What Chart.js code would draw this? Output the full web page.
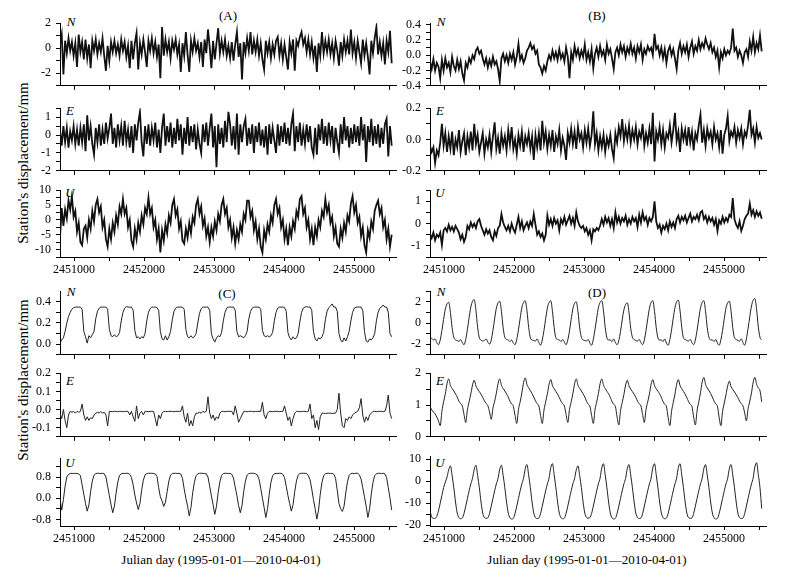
<!DOCTYPE html>
<html>
<head>
<meta charset="utf-8">
<script src="https://cdn.jsdelivr.net/npm/chart.js@4.4.0/dist/chart.umd.min.js"></script>
<style>
  body { margin: 0; background: #fff; }
  #wrap { position: relative; width: 787px; height: 575px; overflow: hidden; font-family: 'Liberation Serif', 'Times New Roman', serif; color: #000; }
  #wrap canvas { position: absolute; }
  .lbl { position: absolute; font-size: 13px; line-height: 1; white-space: nowrap; transform: translate(-50%, -50%); }
  .comp { font-style: italic; }
  .ytitle { position: absolute; font-size: 15px; line-height: 1; white-space: nowrap; transform: translate(-50%, -50%) rotate(-90deg); }
</style>
</head>
<body>
<div id="wrap">
  <div class="lbl" style="left:228px;top:15px">(A)</div>
  <div class="lbl" style="left:597px;top:15px">(B)</div>
  <div class="lbl" style="left:227px;top:293px">(C)</div>
  <div class="lbl" style="left:597px;top:292px">(D)</div>
  <div class="lbl comp" style="left:71px;top:21px">N</div>
  <div class="lbl comp" style="left:70px;top:110px">E</div>
  <div class="lbl comp" style="left:70px;top:192px">U</div>
  <div class="lbl comp" style="left:441px;top:21px">N</div>
  <div class="lbl comp" style="left:440px;top:110px">E</div>
  <div class="lbl comp" style="left:440px;top:192px">U</div>
  <div class="lbl comp" style="left:71px;top:291px">N</div>
  <div class="lbl comp" style="left:70px;top:380px">E</div>
  <div class="lbl comp" style="left:70px;top:462px">U</div>
  <div class="lbl comp" style="left:441px;top:291px">N</div>
  <div class="lbl comp" style="left:440px;top:380px">E</div>
  <div class="lbl comp" style="left:440px;top:462px">U</div>
  <div class="ytitle" style="left:23px;top:163px">Station's displacement/mm</div>
  <div class="ytitle" style="left:23px;top:380px">Station's displacement/mm</div>
  <div class="lbl" style="left:221px;top:559px">Julian day (1995-01-01—2010-04-01)</div>
  <div class="lbl" style="left:587px;top:559px">Julian day (1995-01-01—2010-04-01)</div>
</div>
<script>
// sampling of the series (Julian day)
const dayStart = 2450800;
const dayStep = 24.3;
const xMin = 2450800;
const xMax = 2455600;
const xTicks = [2451000, 2451500, 2452000, 2452500, 2453000, 2453500, 2454000, 2454500, 2455000, 2455500];
const xLabels = [2451000, 2452000, 2453000, 2454000, 2455000];

// (A) raw series
const aN = [
  0.3, 1.1, -2.1, 0.6, -0.4, 0.8, -0.2, 0.5, -0.6, 0.4, -1.5, 1.1, -0.3, 0.5, -0.9,
  0.7, -0.8, 0.3, -1.6, 0.6, -0.2, 0.7, -0.5, 0.4, -0.3, 0.8, -0.6, -1.8, 0.2, -1.0,
  0.5, -0.3, 0.6, -0.4, 0.3, -0.6, 0.7, -0.2, 0.5, -0.7, 0.2, -1.6, 0.6, -0.9, 0.4,
  1.2, -1.7, 0.4, -0.5, 0.7, -0.3, -1.5, 0.6, -0.2, 0.8, -0.4, 0.5, -0.7, 0.3, -2.4,
  1.7, -0.6, 0.7, -0.3, 0.5, -0.8, 0.6, -0.1, 0.7, -0.5, 0.3, -1.9, 0.4, -0.6, 1.3,
  -0.5, -1.9, 0.6, -0.3, 0.8, -0.2, 0.4, -0.7, 0.5, -1.5, 0.7, -0.4, 1.5, 0.1, -1.6,
  0.6, -0.9, 0.4, 1.6, -0.4, 0.6, -0.3, 0.7, -0.6, 0.2, -0.8, 0.5, -1.0, 0.3, 1.3,
  -0.7, 0.4, -2.5, 0.5, -0.4, 0.8, -0.2, 1.3, -0.5, 0.6, -0.3, 0.7, -0.6, 0.4, -0.9,
  -1.7, 0.6, -0.4, 0.5, -0.8, 0.3, -0.5, 0.6, 0.9, -0.6, 0.4, -0.9, 0.3, -0.7, -1.7,
  0.5, -0.4, 0.7, -1.8, 0.6, 0.2, 0.9, 1.3, 0.3, 0.8, -0.3, 0.7, -0.5, 0.5, -0.8,
  0.2, -1.9, 0.4, -0.6, 1.3, -0.4, 0.6, -0.3, 0.7, -0.5, 0.4, -0.8, 0.6, -0.2, -1.4,
  0.5, -0.6, 0.7, -0.3, 0.6, -0.5, 1.5, -0.4, 0.5, -0.8, 0.6, -0.3, -1.2, 0.7, -0.6,
  0.4, -0.7, -2.1, 0.6, -0.4, 0.8, 1.7, -0.5, 0.5, -0.6, 0.4, -1.3, 0.6, -0.3, 1.4,
  -1.2
];
const aE = [
  0.3, -0.6, 0.5, -0.4, 0.4, -0.7, 0.2, -0.3, 0.5, -0.5, 0.3, -0.6, 0.4, -0.4, 0.6,
  -0.9, 1.1, -0.3, 0.5, -0.5, -1.1, 0.4, -0.4, 0.6, -0.6, 0.3, -0.5, 0.7, -0.2, 0.4,
  1.2, -0.5, 0.4, -0.7, 0.6, -0.3, 0.5, -0.6, 0.8, -0.4, 0.3, -0.7, 0.5, -1.0, 0.6,
  -0.3, 0.7, 1.3, -0.4, -1.2, 0.5, -0.5, 0.6, -0.6, 0.4, -0.3, 0.7, -0.7, 0.3, -1.0,
  0.4, 1.2, -0.6, 0.5, -0.4, 0.7, -0.7, 0.4, -0.5, 0.9, -0.3, 0.6, -1.1, 0.4, -0.5,
  1.0, -0.6, 0.5, -0.4, 0.6, -0.8, 0.3, -0.5, -1.0, 0.6, -0.4, 0.7, -0.6, 0.4, 1.2,
  -0.7, 0.5, -1.8, 0.6, -0.5, 0.4, -0.7, 0.8, -0.4, 1.3, 0.6, -0.6, 0.5, -0.8, 1.2,
  -1.1, 0.6, -0.4, 0.5, 0.9, -0.6, 0.4, -0.5, 0.6, -1.0, 0.5, -0.4, 0.7, -0.6, 0.3,
  -0.7, 0.5, -1.1, 0.6, -0.5, 0.4, -0.3, -1.0, 0.6, -0.6, 0.5, -0.4, 0.7, -0.5, 0.4,
  -0.6, 0.6, 1.2, -0.9, 0.5, -0.4, 0.7, -0.6, 0.3, -0.5, 0.6, -0.4, 0.5, -0.7, -1.1,
  0.4, -1.1, 0.6, -0.3, 0.9, -0.5, 0.5, -0.6, 0.7, -0.3, 0.5, -1.0, 0.4, -0.4, -1.0,
  0.6, -0.5, 1.0, -0.3, 0.5, -0.7, 0.4, -0.5, 0.6, -0.4, 0.5, -0.6, 1.0, -0.3, 0.6,
  -1.5, 0.5, -0.4, 0.9, -0.6, 0.5, -0.5, 0.6, -0.7, 0.4, -0.5, 0.6, 0.9, -1.2, 0.5,
  -0.6
];
const aU = [
  -6, 4, -2, 3.5, 0.5, 6.5, 3.5, 8, 1, 3, -4, -1, -7.5, -8.5, -3,
  -2, -6, 0, -3, 3, -0.5, 5, 7, 2.5, 4.5, -2.5, 0, -6.5, -9, -3,
  -6.5, -1, -4, 1.5, -1.5, 4.5, 2, 7, 2, 4, -2.5, 0, -7, -9, -3,
  -6.5, -1, -4, 1.5, -1.5, 4, 2, 7.5, 2, 4, -2.5, 0, -6.5, -3, -11,
  -3.5, -7, -1.5, -4.5, 1.5, -1, 5, 7, 1.5, 3.5, -3, -0.5, -7, -8, -3,
  -6, -1, -4.5, 1, -1, 5, 7, 2, 4.5, -2, 0.5, -5.5, -2.5, -7.5, -2.5,
  -5.5, -0.5, -3.5, 2, -0.5, 5, 7, 2, 4, -2.5, 0, -6, -2.5, -8, -3.5,
  -6.5, -1.5, -4, 2, 0, 6.5, 6.5, 1, 3, -3.5, -0.5, -6.5, -3, -9, -11,
  -3.5, -6.5, -1.5, -4, 1.5, -1, 5, 7, 2, 4, -2.5, 0, -6.5, -3, -8.5,
  -2.5, -5.5, -0.5, -3, 3, 1, 7, 8, 2, 4, -2.5, 0, -6.5, -3, -8.5,
  -2.5, -5.5, 0, -2.5, 3, 1, 7, 2.5, 5, -1, 1, -5.5, -2.5, -8, -9,
  -3, -6, -1, -4, 1.5, -0.5, 5.5, 8, 2.5, 5, -1, 1, -5.5, -2.5, -8.5,
  -11, -3.5, -6, -0.5, -3, 3, 5, 6.5, 2, 4, -2.5, 0, -6.5, -3, -9,
  -5
];

// (B)
const bN = [
  -0.08, -0.18, -0.05, -0.2, -0.1, -0.15, -0.3, -0.06, -0.2, -0.04, -0.16, -0.1, -0.22, -0.02, -0.14,
  -0.2, -0.06, -0.18, -0.08, -0.24, -0.33, -0.1, -0.16, -0.04, -0.1, 0.0, -0.05, 0.06, 0.1, 0.02,
  0.06, -0.04, -0.12, -0.04, -0.16, -0.06, -0.14, -0.02, -0.12, -0.08, -0.18, -0.34, -0.04, 0.02, -0.08,
  0.0, -0.1, 0.02, -0.06, 0.04, -0.12, -0.02, 0.15, -0.06, 0.0, -0.1, -0.04, 0.06, 0.1, 0.16,
  0.08, 0.12, 0.02, 0.06, -0.12, -0.16, -0.24, -0.14, -0.2, -0.08, 0.0, -0.06, 0.06, -0.04, 0.04,
  -0.06, 0.08, -0.04, 0.02, -0.08, 0.1, -0.02, -0.3, 0.04, -0.06, 0.12, 0.0, 0.08, -0.04, 0.06,
  -0.02, 0.14, -0.06, 0.04, -0.08, 0.08, -0.17, 0.02, 0.1, -0.02, 0.12, 0.0, 0.06, -0.06, 0.14,
  0.02, 0.08, -0.04, -0.18, 0.04, 0.1, 0.0, 0.14, 0.04, 0.12, -0.02, 0.1, 0.03, 0.15, 0.02,
  0.1, -0.04, 0.12, 0.04, 0.14, -0.06, 0.08, 0.02, 0.12, 0.06, 0.1, 0.0, 0.28, 0.08, 0.12,
  0.0, 0.1, -0.04, 0.08, -0.1, 0.06, 0.12, 0.0, 0.08, -0.04, -0.18, 0.06, 0.16, 0.02, 0.12,
  0.04, 0.14, -0.02, 0.1, 0.18, 0.02, 0.12, 0.06, 0.2, 0.08, 0.16, 0.1, 0.22, 0.14, 0.08,
  0.16, 0.04, 0.1, -0.02, 0.06, -0.16, 0.04, -0.04, 0.08, 0.0, 0.06, 0.02, 0.1, 0.35, 0.06,
  0.1, -0.02, 0.06, 0.0, -0.1, 0.04, 0.08, -0.02, 0.18, 0.06, 0.24, 0.04, 0.16, 0.08, 0.26,
  0.05
];
const bE = [
  -0.04, -0.08, -0.05, -0.15, -0.07, -0.1, -0.02, 0.1, -0.04, 0.04, -0.08, 0.02, -0.06, 0.05, -0.1,
  0.0, -0.05, 0.06, -0.08, -0.01, 0.04, -0.1, 0.02, -0.05, 0.05, -0.07, 0.1, -0.03, 0.03, -0.08,
  -0.02, 0.04, -0.09, 0.0, -0.05, 0.03, -0.08, 0.02, 0.11, -0.06, 0.01, -0.09, 0.04, -0.04, 0.02,
  -0.07, 0.06, -0.03, 0.08, -0.06, 0.0, -0.09, 0.03, -0.04, 0.05, -0.08, 0.02, -0.03, 0.04, -0.06,
  0.02, -0.13, 0.03, -0.05, 0.04, -0.07, 0.12, -0.02, 0.05, -0.06, 0.03, -0.04, 0.06, -0.08, 0.02,
  -0.03, 0.06, -0.07, 0.01, -0.04, -0.13, 0.04, -0.02, 0.07, -0.03, 0.05, -0.06, 0.08, 0.0, 0.04,
  -0.05, 0.06, -0.02, 0.07, -0.04, 0.03, 0.18, -0.03, 0.04, -0.07, 0.02, -0.05, 0.03, -0.08, 0.01,
  -0.04, 0.03, -0.06, -0.12, 0.04, -0.02, 0.08, 0.02, 0.13, -0.01, 0.07, 0.0, 0.09, -0.02, 0.06,
  0.0, 0.08, -0.03, 0.05, 0.01, 0.1, -0.04, 0.04, -0.02, 0.07, -0.03, 0.17, -0.14, 0.05, 0.0,
  0.08, -0.03, 0.06, -0.05, 0.04, 0.01, 0.09, -0.02, 0.06, 0.17, -0.01, 0.05, -0.08, 0.07, 0.0,
  0.06, -0.04, 0.08, -0.02, 0.05, -0.07, 0.04, 0.0, 0.09, 0.16, -0.02, 0.06, -0.04, 0.07, 0.01,
  0.05, -0.03, 0.08, 0.0, 0.04, -0.05, 0.06, -0.09, 0.03, 0.07, 0.15, -0.01, 0.05, 0.02, 0.08,
  -0.02, 0.06, 0.01, 0.07, -0.03, 0.05, 0.02, 0.09, 0.19, 0.03, 0.07, -0.02, 0.08, 0.01, 0.04,
  0.0
];
const bU = [
  -0.47, -0.65, -0.4, -0.75, -0.5, -0.6, -0.4, -0.96, -0.3, -0.2, -0.35, -0.05, -0.3, -0.15, -0.35,
  -0.1, -0.25, -0.4, -0.7, -0.5, -0.82, -0.6, -0.1, -0.25, 0.05, -0.15, 0.0, -0.2, 0.1, 0.2,
  -0.1, -0.3, -0.5, -0.25, -0.45, -0.3, -0.6, -0.75, -0.35, -0.55, -0.2, -0.1, 0.43, 0.05, -0.15,
  -0.3, -0.1, -0.35, 0.0, -0.25, -0.4, -0.05, 0.3, -0.2, 0.1, -0.3, -0.1, 0.05, -0.2, 0.1,
  -0.1, 0.43, -0.05, -0.5, -0.35, -0.6, -0.45, -0.75, -0.5, 0.36, -0.05, 0.2, -0.1, 0.25, 0.0,
  0.15, -0.3, 0.2, 0.0, 0.3, -0.05, 0.15, 0.35, 0.0, 0.25, -0.1, 0.5, 0.1, -0.1, -0.2,
  -0.1, -0.35, -0.2, -0.5, -0.3, -0.75, -0.25, -0.35, -0.2, -0.3, -0.1, 0.2, -0.05, 0.3, 0.05,
  0.25, -0.1, 0.2, -0.2, 0.5, 0.05, 0.3, 0.0, 0.25, 0.1, 0.35, -0.05, 0.2, 0.0, 0.3,
  0.1, 0.25, -0.15, 0.4, 0.05, 0.5, 0.15, 0.3, -0.05, 0.25, 0.1, 0.3, 1.0, 0.1, -0.2,
  -0.05, -0.4, -0.1, -0.25, 0.0, -0.3, 0.1, -0.15, 0.05, -0.2, 0.2, 0.35, 0.05, 0.3, 0.15,
  0.35, 0.05, 0.25, 0.45, 0.1, 0.3, 0.2, 0.4, 0.15, 0.5, 0.57, 0.2, 0.35, 0.05, 0.3,
  0.1, 0.25, -0.05, 0.2, -0.33, 0.15, 0.0, 0.3, 0.05, 0.25, 0.1, 0.4, 0.3, 1.15, 0.2,
  -0.05, -0.2, 0.1, -0.33, -0.1, 0.2, 0.35, 0.45, 0.9, 0.4, 0.6, 0.3, 0.55, 0.35, 0.5,
  0.22
];

// (C)
const cN = [
  0.01, 0.04, 0.06, 0.12, 0.2, 0.26, 0.3, 0.33, 0.345, 0.35, 0.35, 0.35, 0.35, 0.33, 0.12,
  0.07, 0.01, 0.08, 0.06, 0.09, 0.12, 0.24, 0.31, 0.34, 0.35, 0.35, 0.35, 0.35, 0.33, 0.14,
  0.08, 0.07, 0.09, 0.07, 0.08, 0.11, 0.22, 0.3, 0.34, 0.355, 0.35, 0.35, 0.35, 0.32, 0.13,
  0.06, 0.07, 0.05, 0.07, 0.06, 0.1, 0.22, 0.3, 0.335, 0.35, 0.35, 0.35, 0.345, 0.32, 0.12,
  0.05, 0.04, 0.08, 0.04, 0.07, 0.12, 0.23, 0.31, 0.34, 0.35, 0.35, 0.35, 0.35, 0.33, 0.14,
  0.07, 0.06, 0.08, 0.06, 0.07, 0.1, 0.2, 0.29, 0.335, 0.35, 0.35, 0.35, 0.35, 0.32, 0.1,
  0.05, 0.02, 0.06, 0.08, 0.07, 0.11, 0.22, 0.3, 0.34, 0.35, 0.35, 0.35, 0.35, 0.32, 0.12,
  0.07, 0.08, 0.07, 0.06, 0.08, 0.12, 0.24, 0.31, 0.34, 0.35, 0.35, 0.35, 0.35, 0.33, 0.13,
  0.08, 0.07, 0.08, 0.07, 0.08, 0.11, 0.22, 0.3, 0.34, 0.35, 0.35, 0.35, 0.345, 0.31, 0.11,
  0.06, 0.04, 0.07, 0.05, 0.06, 0.1, 0.21, 0.3, 0.34, 0.35, 0.355, 0.35, 0.35, 0.32, 0.12,
  0.05, 0.03, 0.06, 0.05, 0.07, 0.11, 0.23, 0.31, 0.345, 0.36, 0.38, 0.35, 0.35, 0.31, 0.1,
  0.04, 0.02, 0.06, 0.03, 0.07, 0.12, 0.22, 0.3, 0.34, 0.35, 0.35, 0.35, 0.35, 0.32, 0.12,
  0.03, 0.02, 0.05, 0.04, 0.06, 0.1, 0.22, 0.3, 0.34, 0.35, 0.37, 0.35, 0.35, 0.3, 0.1,
  0.07
];
const cE = [
  -0.02, -0.05, 0.0, -0.06, -0.1, -0.03, -0.01, -0.015, -0.01, -0.02, -0.01, -0.015, -0.01, 0.03, -0.03,
  -0.06, -0.04, -0.06, -0.045, -0.05, -0.03, -0.02, -0.015, -0.02, -0.01, -0.02, -0.015, -0.03, -0.09, -0.01,
  -0.01, -0.012, -0.01, -0.01, -0.012, -0.01, -0.01, -0.012, -0.01, -0.01, -0.01, -0.03, -0.01, -0.04, -0.065,
  0.02, -0.05, -0.02, -0.01, -0.03, -0.01, -0.01, -0.012, -0.01, -0.01, -0.01, -0.05, -0.09, -0.03, -0.05,
  -0.02, -0.01, -0.01, -0.012, -0.01, -0.01, -0.01, -0.012, -0.01, -0.01, -0.01, -0.01, 0.02, -0.04, -0.07,
  -0.02, -0.09, -0.06, -0.09, -0.04, -0.02, -0.02, -0.015, -0.02, -0.01, -0.015, -0.01, 0.07, -0.02, -0.05,
  -0.03, -0.06, -0.04, -0.05, -0.02, -0.01, -0.01, -0.012, -0.01, -0.01, -0.01, -0.01, -0.03, 0.02, -0.02,
  -0.07, -0.05, -0.03, -0.01, -0.01, -0.012, -0.01, -0.01, -0.01, -0.012, -0.01, -0.01, -0.01, -0.01, 0.04,
  -0.03, -0.05, -0.02, -0.01, -0.01, -0.012, -0.01, -0.01, -0.01, -0.012, -0.01, -0.01, 0.02, -0.02, -0.06,
  -0.04, -0.09, -0.05, -0.02, -0.01, -0.01, -0.012, -0.01, -0.01, -0.01, -0.012, -0.01, 0.03, -0.05, -0.03,
  -0.1, -0.06, -0.11, -0.04, -0.02, -0.02, -0.022, -0.02, -0.02, -0.02, -0.022, -0.02, -0.02, 0.0, 0.09,
  -0.02, -0.09, -0.1, -0.05, -0.06, -0.04, -0.05, -0.03, -0.02, -0.015, -0.01, 0.01, 0.06, -0.03, -0.07,
  -0.04, -0.06, -0.03, -0.02, -0.01, -0.01, -0.012, -0.01, -0.01, -0.01, -0.012, -0.01, 0.02, 0.08, -0.02,
  -0.05
];
const cU = [
  0.0, -0.45, -0.05, 0.45, 0.8, 0.9, 0.93, 0.94, 0.93, 0.94, 0.93, 0.92, 0.85, 0.5, 0.15,
  -0.2, -0.49, -0.25, 0.25, 0.65, 0.87, 0.93, 0.94, 0.94, 0.93, 0.94, 0.92, 0.8, 0.45, 0.1,
  -0.25, -0.55, -0.3, 0.2, 0.62, 0.86, 0.92, 0.94, 0.93, 0.94, 0.94, 0.9, 0.78, 0.5, 0.12,
  -0.18, -0.43, -0.2, 0.3, 0.68, 0.88, 0.93, 0.94, 0.94, 0.94, 0.93, 0.92, 0.82, 0.4, 0.05,
  -0.1, -0.31, -0.15, 0.25, 0.65, 0.87, 0.93, 0.94, 0.94, 0.93, 0.94, 0.91, 0.75, 0.35, 0.0,
  -0.3, -0.67, -0.35, 0.2, 0.6, 0.85, 0.92, 0.94, 0.94, 0.94, 0.93, 0.92, 0.8, 0.45, 0.08,
  -0.25, -0.61, -0.3, 0.22, 0.63, 0.86, 0.93, 0.94, 0.94, 0.93, 0.94, 0.9, 0.76, 0.42, 0.1,
  -0.28, -0.55, -0.28, 0.25, 0.65, 0.87, 0.93, 0.94, 0.94, 0.94, 0.92, 0.88, 0.72, 0.38, 0.0,
  -0.35, -0.73, -0.4, 0.15, 0.6, 0.85, 0.92, 0.94, 0.93, 0.94, 0.94, 0.9, 0.78, 0.45, 0.1,
  -0.2, -0.49, -0.25, 0.25, 0.65, 0.87, 0.93, 0.94, 0.94, 0.94, 0.93, 0.85, 0.7, 0.35, -0.05,
  -0.4, -0.79, -0.45, 0.15, 0.6, 0.85, 0.92, 0.94, 0.94, 0.93, 0.94, 0.9, 0.75, 0.3, -0.2,
  -0.4, -0.5, -0.3, 0.2, 0.62, 0.86, 0.93, 0.94, 0.93, 0.94, 0.94, 0.88, 0.72, 0.4, 0.05,
  -0.3, -0.73, -0.4, 0.15, 0.6, 0.85, 0.92, 0.94, 0.94, 0.93, 0.94, 0.92, 0.78, 0.4, 0.0,
  -0.45
];

// (D)
const dN = [
  -1.5, -1.45, -1.6, -1.5, -1.85, -2.05, -1.6, -0.7, 0.35, 1.3, 1.8, 1.95, 1.0, -0.45, -1.35,
  -1.6, -1.65, -1.75, -1.55, -1.85, -2.05, -1.55, -0.6, 0.5, 1.5, 2.05, 2.2, 1.2, -0.4, -1.4,
  -1.6, -1.7, -1.65, -1.5, -1.8, -2.0, -1.6, -0.7, 0.4, 1.4, 1.9, 2.05, 1.1, -0.45, -1.35,
  -1.55, -1.6, -1.75, -1.6, -1.9, -2.05, -1.55, -0.65, 0.45, 1.45, 1.95, 2.1, 1.15, -0.4, -1.4,
  -1.6, -1.65, -1.7, -1.5, -1.85, -2.1, -1.6, -0.7, 0.4, 1.4, 1.95, 2.1, 1.1, -0.45, -1.4,
  -1.55, -1.6, -1.75, -1.55, -1.8, -2.05, -1.6, -0.75, 0.35, 1.35, 1.85, 2.0, 1.05, -0.45, -1.35,
  -1.6, -1.65, -1.7, -1.55, -1.9, -2.1, -1.55, -0.6, 0.45, 1.45, 1.95, 2.1, 1.15, -0.4, -1.4,
  -1.6, -1.6, -1.75, -1.5, -1.85, -2.05, -1.65, -0.8, 0.3, 1.25, 1.75, 1.9, 1.0, -0.5, -1.35,
  -1.55, -1.65, -1.7, -1.55, -1.85, -2.05, -1.6, -0.7, 0.4, 1.4, 1.95, 2.1, 1.1, -0.45, -1.4,
  -1.6, -1.6, -1.75, -1.5, -1.9, -2.1, -1.55, -0.65, 0.45, 1.45, 2.0, 2.15, 1.15, -0.4, -1.4,
  -1.55, -1.65, -1.7, -1.55, -1.85, -2.05, -1.6, -0.7, 0.4, 1.4, 1.95, 2.1, 1.1, -0.45, -1.35,
  -1.6, -1.6, -1.75, -1.55, -1.9, -2.1, -1.6, -0.7, 0.4, 1.4, 1.9, 2.05, 1.1, -0.45, -1.4,
  -1.55, -1.65, -1.7, -1.5, -1.85, -2.1, -1.5, -0.5, 0.6, 1.6, 2.15, 2.3, 1.3, -0.35, -1.35,
  -1.6
];
const dE = [
  0.95, 0.85, 0.78, 0.72, 0.62, 0.5, 0.35, 0.8, 1.1, 1.35, 1.67, 1.82, 1.62, 1.52, 1.44,
  1.35, 1.25, 1.12, 1.04, 0.97, 0.7, 0.45, 0.85, 1.1, 1.35, 1.63, 1.78, 1.6, 1.5, 1.42,
  1.34, 1.24, 1.13, 1.05, 0.98, 0.78, 0.55, 0.9, 1.12, 1.37, 1.67, 1.82, 1.62, 1.52, 1.44,
  1.35, 1.25, 1.12, 1.03, 0.96, 0.67, 0.42, 0.85, 1.1, 1.38, 1.7, 1.85, 1.64, 1.54, 1.45,
  1.36, 1.25, 1.13, 1.04, 0.97, 0.67, 0.42, 0.84, 1.1, 1.35, 1.65, 1.8, 1.61, 1.51, 1.43,
  1.34, 1.24, 1.12, 1.04, 0.97, 0.7, 0.45, 0.86, 1.1, 1.36, 1.67, 1.82, 1.62, 1.52, 1.44,
  1.35, 1.25, 1.12, 1.03, 0.96, 0.67, 0.42, 0.85, 1.1, 1.36, 1.67, 1.82, 1.62, 1.52, 1.43,
  1.35, 1.24, 1.11, 1.02, 0.95, 0.62, 0.37, 0.82, 1.08, 1.33, 1.63, 1.78, 1.6, 1.5, 1.42,
  1.34, 1.24, 1.12, 1.04, 0.97, 0.7, 0.45, 0.86, 1.1, 1.35, 1.65, 1.8, 1.61, 1.51, 1.43,
  1.35, 1.24, 1.11, 1.02, 0.95, 0.6, 0.35, 0.8, 1.08, 1.34, 1.65, 1.8, 1.61, 1.51, 1.43,
  1.34, 1.23, 1.11, 1.02, 0.95, 0.62, 0.37, 0.82, 1.1, 1.38, 1.72, 1.87, 1.65, 1.54, 1.45,
  1.36, 1.25, 1.12, 1.03, 0.96, 0.6, 0.35, 0.8, 1.06, 1.32, 1.6, 1.75, 1.58, 1.49, 1.41,
  1.33, 1.23, 1.12, 1.04, 0.97, 0.75, 0.5, 0.88, 1.12, 1.38, 1.72, 1.87, 1.65, 1.54, 1.45,
  1.1
];
const dU = [
  -13.5, -16.2, -17.0, -16.9, -16.0, -13.5, -10, -6.5, -3, -0.5, 1.8, 5.1, 6.9, 2.5, -3,
  -9.5, -14.5, -16.6, -17.1, -16.8, -14.7, -11.4, -7.9, -4.4, -1.3, 1.3, 5.4, 7.2, 2.5, -3,
  -9.5, -14.5, -16.6, -16.9, -16.7, -14.7, -11.4, -7.9, -4.4, -1.3, 1.3, 5.4, 7.2, 2.5, -3,
  -9.5, -14.5, -16.7, -17.2, -16.9, -14.7, -11.4, -7.9, -4.4, -1.3, 1.3, 5.7, 7.5, 2.7, -3,
  -9.5, -14.5, -16.6, -17.0, -16.8, -14.7, -11.4, -7.9, -4.4, -1.3, 1.4, 6.1, 7.9, 2.8, -3,
  -9.5, -14.5, -16.6, -17.1, -16.8, -14.7, -11.4, -7.9, -4.4, -1.3, 1.2, 5.1, 6.9, 2.4, -3,
  -9.5, -14.5, -16.5, -16.8, -16.6, -14.7, -11.4, -7.9, -4.4, -1.3, 1.4, 6.1, 7.9, 2.8, -3,
  -9.5, -14.5, -16.7, -17.2, -16.9, -14.7, -11.4, -7.9, -4.4, -1.3, 1.3, 5.7, 7.5, 2.7, -3,
  -9.5, -14.5, -16.6, -17.0, -16.8, -14.7, -11.4, -7.9, -4.4, -1.3, 1.4, 6.1, 7.9, 2.8, -3,
  -9.5, -14.5, -16.6, -17.1, -16.8, -14.7, -11.4, -7.9, -4.4, -1.3, 1.4, 6.1, 7.9, 2.8, -3,
  -9.5, -14.5, -16.6, -16.9, -16.7, -14.7, -11.4, -7.9, -4.4, -1.3, 1.3, 5.7, 7.5, 2.7, -3,
  -9.5, -14.5, -16.7, -17.2, -16.9, -14.7, -11.4, -7.9, -4.4, -1.3, 1.3, 5.7, 7.5, 2.7, -3,
  -9.5, -14.5, -16.6, -17.0, -16.8, -14.7, -11.4, -7.9, -4.4, -1.3, 1.5, 6.5, 8.3, 3.0, -3,
  -12.5
];

// y axis ticks (all marks) and the ones that carry a label
const aNTicks = [-3, -2, -1, 0, 1, 2], aNLabels = [-2, 0, 2];
const aETicks = [-2, -1.5, -1, -0.5, 0, 0.5, 1, 1.5], aELabels = [-2, -1, 0, 1];
const aUTicks = [-12.5, -10, -7.5, -5, -2.5, 0, 2.5, 5, 7.5, 10], aULabels = [-10, -5, 0, 5, 10];
const bNTicks = [-0.4, -0.3, -0.2, -0.1, 0, 0.1, 0.2, 0.3, 0.4], bNLabels = [-0.4, -0.2, 0, 0.2, 0.4];
const bETicks = [-0.2, -0.1, 0, 0.1, 0.2], bELabels = [-0.2, 0, 0.2];
const bUTicks = [-1.5, -1, -0.5, 0, 0.5, 1, 1.5], bULabels = [-1, 0, 1];
const cNTicks = [-0.1, 0, 0.1, 0.2, 0.3, 0.4], cNLabels = [0, 0.2, 0.4];
const cETicks = [-0.15, -0.1, -0.05, 0, 0.05, 0.1, 0.15, 0.2], cELabels = [-0.1, 0, 0.1, 0.2];
const cUTicks = [-0.8, -0.4, 0, 0.4, 0.8, 1.2], cULabels = [-0.8, 0, 0.8];
const dNTicks = [-3, -2, -1, 0, 1, 2, 3], dNLabels = [-2, 0, 2];
const dETicks = [0, 0.5, 1, 1.5, 2], dELabels = [0, 1, 2];
const dUTicks = [-20, -15, -10, -5, 0, 5, 10], dULabels = [-20, -10, 0, 10];

// line: 'dense' for the raw noisy records, 'thin' for the filtered ones
const panels = [
  { values: aN, left: 60, top: 19, height: 71, min: -3, max: 2, ticks: aNTicks, labels: aNLabels, digits: 0, line: 'dense' },
  { values: aE, left: 60, top: 104, height: 71, min: -2, max: 1.5, ticks: aETicks, labels: aELabels, digits: 0, line: 'dense' },
  { values: aU, left: 60, top: 186, height: 71, min: -12.5, max: 10, ticks: aUTicks, labels: aULabels, digits: 0, line: 'dense', xText: true },
  { values: bN, left: 430, top: 19, height: 71, min: -0.4, max: 0.42, ticks: bNTicks, labels: bNLabels, digits: 1, line: 'dense' },
  { values: bE, left: 430, top: 104, height: 71, min: -0.2, max: 0.2, ticks: bETicks, labels: bELabels, digits: 1, line: 'dense' },
  { values: bU, left: 430, top: 186, height: 71, min: -1.5, max: 1.5, ticks: bUTicks, labels: bULabels, digits: 0, line: 'dense', xText: true },
  { values: cN, left: 60, top: 287, height: 72, min: -0.1, max: 0.5, ticks: cNTicks, labels: cNLabels, digits: 1, line: 'thin' },
  { values: cE, left: 60, top: 369, height: 72, min: -0.15, max: 0.2, ticks: cETicks, labels: cELabels, digits: 1, line: 'thin' },
  { values: cU, left: 60, top: 454, height: 72, min: -1.05, max: 1.51, ticks: cUTicks, labels: cULabels, digits: 1, line: 'thin', xText: true },
  { values: dN, left: 430, top: 287, height: 72, min: -3, max: 3, ticks: dNTicks, labels: dNLabels, digits: 0, line: 'smooth' },
  { values: dE, left: 430, top: 369, height: 72, min: 0, max: 2, ticks: dETicks, labels: dELabels, digits: 0, line: 'smooth' },
  { values: dU, left: 430, top: 452, height: 74, min: -20.4, max: 11.3, ticks: dUTicks, labels: dULabels, digits: 0, line: 'smooth', xText: true }
];

const wrap = document.getElementById('wrap');
const tickFont = { family: "'Liberation Serif', 'Times New Roman', serif", size: 12 };

function drawPanel(p) {
  const axisW = 44, padTop = 8, padRight = 6, plotW = 336;
  const bottomH = p.xText ? 30 : 8;
  const w = axisW + plotW + padRight;
  const h = padTop + p.height + bottomH;
  const canvas = document.createElement('canvas');
  canvas.width = w;
  canvas.height = h;
  canvas.style.left = (p.left - axisW) + 'px';
  canvas.style.top = (p.top - padTop) + 'px';
  wrap.appendChild(canvas);

  const axisGrid = { display: true, drawOnChartArea: false, drawTicks: true, tickLength: 4, tickColor: '#000', color: '#000' };
  const axisBorder = { display: true, color: '#000', width: 1 };
  const dense = p.line === 'dense';

  new Chart(canvas, {
    type: 'line',
    data: {
      datasets: [{
        data: p.values.map((v, i) => ({ x: dayStart + i * dayStep, y: v })),
        borderColor: dense ? '#111' : '#222',
        borderWidth: dense ? 1.8 : 1,
        pointRadius: 0,
        fill: false,
        tension: 0,
        cubicInterpolationMode: p.line === 'smooth' ? 'monotone' : 'default'
      }]
    },
    options: {
      responsive: false,
      animation: false,
      events: [],
      layout: { autoPadding: false, padding: { top: padTop, right: padRight, left: 0, bottom: 0 } },
      plugins: { legend: { display: false }, tooltip: { enabled: false } },
      scales: {
        x: {
          type: 'linear',
          min: xMin,
          max: xMax,
          afterFit: s => { s.height = bottomH; },
          afterBuildTicks: s => { s.ticks = xTicks.map(v => ({ value: v })); },
          grid: axisGrid,
          border: axisBorder,
          ticks: {
            autoSkip: false, maxRotation: 0, minRotation: 0, padding: 2,
            color: '#000', font: tickFont,
            callback: v => (p.xText && xLabels.includes(v)) ? String(v) : ''
          }
        },
        y: {
          type: 'linear',
          min: p.min,
          max: p.max,
          afterFit: s => { s.width = axisW; },
          afterBuildTicks: s => { s.ticks = p.ticks.map(v => ({ value: v })); },
          grid: axisGrid,
          border: axisBorder,
          ticks: {
            autoSkip: false, padding: 5,
            color: '#000', font: tickFont,
            callback: v => p.labels.some(l => Math.abs(l - v) < 1e-9) ? v.toFixed(p.digits) : ''
          }
        }
      }
    }
  });
}

panels.forEach(drawPanel);
</script>
</body>
</html>
